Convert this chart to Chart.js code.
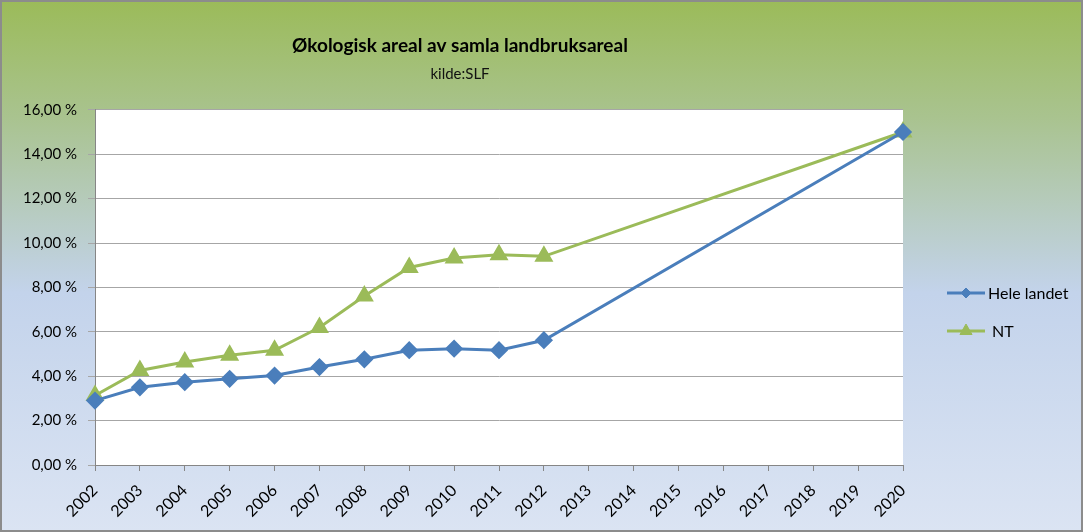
<!DOCTYPE html>
<html>
<head>
<meta charset="utf-8">
<script src="https://cdn.jsdelivr.net/npm/chart.js@4/dist/chart.umd.min.js"></script>
<style>
    html, body { margin: 0; padding: 0; }
    #wrap {
        width: 1083px;
        height: 532px;
        position: relative;
        background: linear-gradient(to bottom, #9bbb59 0%, #a9c38f 22%, #c3d3eb 55%, #dbe4f3 100%);
    }
    #chart { position: absolute; left: 0; top: 0; }
    #frame {
        position: absolute; left: 0; top: 0;
        width: 1083px; height: 532px;
        box-sizing: border-box;
        border: 2px solid #8c8c8c;
        pointer-events: none;
    }
</style>
</head>
<body>
<div id="wrap">
    <canvas id="chart" width="1083" height="532"></canvas>
    <div id="frame"></div>
</div>
<script>
// Verdiar lesne av bildet
const years = ['2002', '2003', '2004', '2005', '2006', '2007', '2008', '2009', '2010',
    '2011', '2012', '2013', '2014', '2015', '2016', '2017', '2018', '2019', '2020'];
const heleLandet = [2.90, 3.50, 3.73, 3.88, 4.03, 4.41, 4.76, 5.17, 5.24, 5.17, 5.62,
    null, null, null, null, null, null, null, 15.00];
const nt = [3.13, 4.26, 4.64, 4.94, 5.17, 6.19, 7.61, 8.90, 9.32, 9.47, 9.40,
    null, null, null, null, null, null, null, 15.00];
const seriesNames = ['Hele landet', 'NT'];
const seriesColors = ['#4a7ebb', '#9bbb59'];
const markerStyles = ['rectRot', 'triangle'];

const FONT = "Lato, 'Open Sans', sans-serif";

// kvit bakgrunn i plotteområdet
const plotBackground = {
    id: 'plotBackground',
    beforeDraw(chart) {
        const { ctx, chartArea } = chart;
        ctx.save();
        ctx.fillStyle = '#ffffff';
        ctx.fillRect(chartArea.left, chartArea.top, chartArea.right - chartArea.left, chartArea.bottom - chartArea.top);
        ctx.restore();
    }
};

// legende som i Excel: linje med markør i midten
const lineLegend = {
    id: 'lineLegend',
    afterDraw(chart) {
        const ctx = chart.ctx;
        const x0 = 947, y0 = 293, step = 38;
        const legendRadius = [5, 7];
        ctx.save();
        chart.data.datasets.forEach((ds, i) => {
            const y = y0 + i * step;
            ctx.strokeStyle = ds.borderColor;
            ctx.lineWidth = 3;
            ctx.beginPath();
            ctx.moveTo(x0, y);
            ctx.lineTo(x0 + 38, y);
            ctx.stroke();
            ctx.fillStyle = ds.borderColor;
            ctx.lineWidth = 1;
            Chart.helpers.drawPoint(ctx, {
                pointStyle: ds.pointStyle,
                radius: legendRadius[i],
                borderWidth: 1
            }, x0 + 19, y);
            ctx.fillStyle = '#000000';
            ctx.font = '16px ' + FONT;
            ctx.textBaseline = 'middle';
            ctx.fillText(ds.label, x0 + 41 + (i === 1 ? 4 : 0), y + 1);
        });
        ctx.restore();
    }
};

function buildDatasets() {
    return [heleLandet, nt].map((values, i) => ({
        label: seriesNames[i],
        data: values,
        borderColor: seriesColors[i],
        backgroundColor: seriesColors[i],
        pointBackgroundColor: seriesColors[i],
        pointBorderColor: seriesColors[i],
        borderWidth: 3,
        pointStyle: markerStyles[i],
        pointRadius: i === 0 ? 7 : 8,
        pointHoverRadius: i === 0 ? 7 : 8,
        spanGaps: true,
        tension: 0
    }));
}

function initChart() {
    Chart.defaults.font.family = FONT;
    Chart.defaults.color = '#000000';

    new Chart(document.getElementById('chart'), {
        type: 'line',
        data: {
            labels: years,
            datasets: buildDatasets()
        },
        options: {
            responsive: false,
            animation: false,
            layout: { padding: { left: 17, right: 180, top: 0, bottom: 0 } },
            plugins: {
                legend: { display: false },
                tooltip: { enabled: false },
                title: {
                    display: true,
                    text: 'Økologisk areal av samla landbruksareal',
                    font: { size: 19, weight: 'bold', family: FONT },
                    color: '#000000',
                    padding: { top: 34, bottom: 4 }
                },
                subtitle: {
                    display: true,
                    text: 'kilde:SLF',
                    font: { size: 15, family: FONT },
                    color: '#111111',
                    padding: { top: 4, bottom: 27 }
                }
            },
            scales: {
                x: {
                    offset: false,
                    afterFit(scale) { scale.height = 67; },
                    border: { display: true, color: '#868686', width: 1 },
                    grid: { drawOnChartArea: false, drawTicks: true, tickLength: 6, color: '#868686' },
                    ticks: {
                        minRotation: 45,
                        maxRotation: 45,
                        autoSkip: false,
                        padding: 10,
                        font: { size: 16, family: FONT }
                    }
                },
                y: {
                    min: 0,
                    max: 16,
                    afterFit(scale) { scale.width = 78; },
                    border: { display: true, color: '#868686', width: 1 },
                    grid: { color: '#a6a6a6', lineWidth: 1, tickLength: 7 },
                    ticks: {
                        stepSize: 2,
                        padding: 11,
                        font: { size: 15, family: FONT },
                        callback: v => v.toFixed(2).replace('.', ',') + ' %'
                    }
                }
            }
        },
        plugins: [plotBackground, lineLegend]
    });
}

document.addEventListener('DOMContentLoaded', () => {
    initChart();
});
</script>
</body>
</html>
